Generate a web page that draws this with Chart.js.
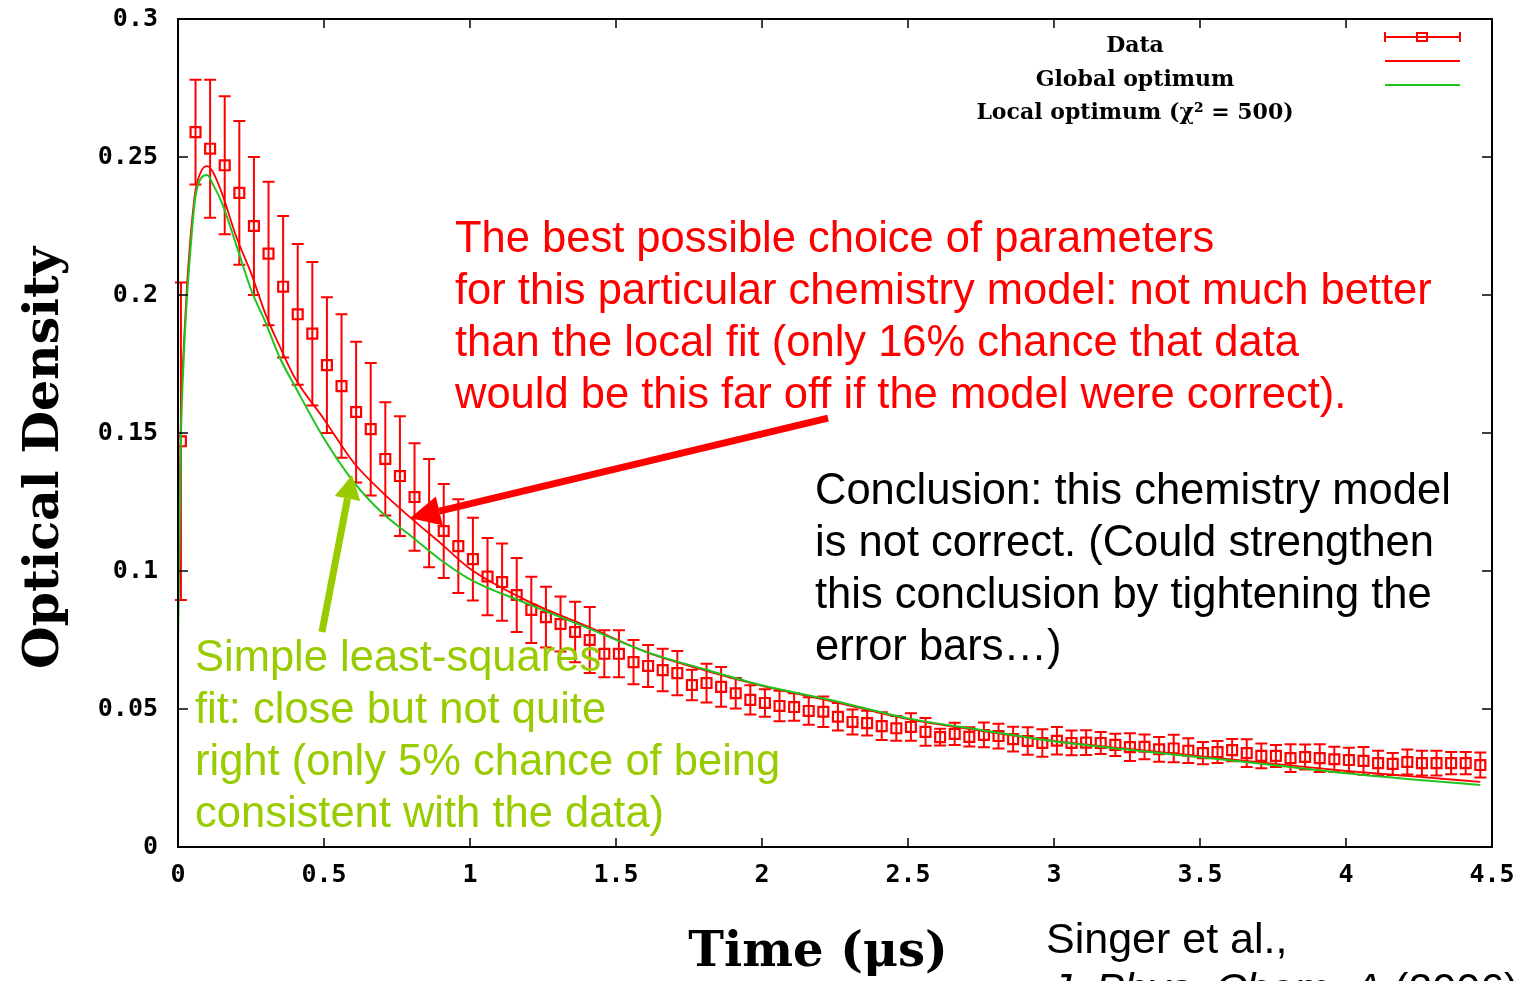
<!DOCTYPE html>
<html>
<head>
<meta charset="utf-8">
<title>Optical density fit</title>
<script src="https://cdn.jsdelivr.net/npm/chart.js@4.4.1/dist/chart.umd.min.js"></script>
<style>
  html, body { margin: 0; padding: 0; background: #fff; overflow: hidden; }
  #wrap { position: relative; width: 1525px; height: 981px; }
</style>
</head>
<body>
<div id="wrap"><canvas id="chart"></canvas></div>
<script>
// --- data ---
const times = [0.01, 0.06, 0.11, 0.16, 0.21, 0.26, 0.31, 0.36, 0.41, 0.46,
  0.51, 0.56, 0.61, 0.66, 0.71, 0.76, 0.81, 0.86, 0.91, 0.96,
  1.01, 1.06, 1.11, 1.16, 1.21, 1.26, 1.31, 1.36, 1.41, 1.46,
  1.51, 1.56, 1.61, 1.66, 1.71, 1.76, 1.81, 1.86, 1.91, 1.96,
  2.01, 2.06, 2.11, 2.16, 2.21, 2.26, 2.31, 2.36, 2.41, 2.46,
  2.51, 2.56, 2.61, 2.66, 2.71, 2.76, 2.81, 2.86, 2.91, 2.96,
  3.01, 3.06, 3.11, 3.16, 3.21, 3.26, 3.31, 3.36, 3.41, 3.46,
  3.51, 3.56, 3.61, 3.66, 3.71, 3.76, 3.81, 3.86, 3.91, 3.96,
  4.01, 4.06, 4.11, 4.16, 4.21, 4.26, 4.31, 4.36, 4.41, 4.46];
const density = [0.147, 0.259, 0.253, 0.247, 0.237, 0.225, 0.215, 0.203, 0.193, 0.186,
  0.1746, 0.167, 0.1576, 0.1514, 0.1406, 0.1344, 0.1268, 0.121, 0.1145, 0.109,
  0.1043, 0.098, 0.096, 0.0913, 0.0859, 0.0833, 0.0808, 0.0779, 0.075, 0.070,
  0.070, 0.067, 0.0656, 0.0641, 0.063, 0.0587, 0.0594, 0.058, 0.0557, 0.0533,
  0.0522, 0.0511, 0.0507, 0.0493, 0.049, 0.0472, 0.0453, 0.0449, 0.0438, 0.043,
  0.0435, 0.0417, 0.0398, 0.041, 0.0399, 0.0406, 0.0402, 0.0391, 0.0384, 0.0377,
  0.0385, 0.0377, 0.0378, 0.0377, 0.037, 0.0362, 0.0363, 0.0354, 0.0357, 0.0349,
  0.034, 0.0344, 0.0351, 0.034, 0.033, 0.033, 0.0322, 0.0326, 0.0322, 0.0318,
  0.0315, 0.0312, 0.0304, 0.0301, 0.0308, 0.0304, 0.0304, 0.0304, 0.0304, 0.0297];
const errors = [0.0575, 0.019, 0.025, 0.025, 0.026, 0.025, 0.026, 0.0256, 0.0255, 0.026,
  0.0246, 0.026, 0.0255, 0.024, 0.0205, 0.0217, 0.0195, 0.0196, 0.017, 0.017,
  0.015, 0.014, 0.014, 0.0134, 0.012, 0.011, 0.010, 0.011, 0.012, 0.0085,
  0.0085, 0.008, 0.0076, 0.0077, 0.008, 0.0055, 0.007, 0.0072, 0.0055, 0.0053,
  0.005, 0.0055, 0.005, 0.005, 0.0055, 0.005, 0.0045, 0.0045, 0.005, 0.0045,
  0.005, 0.005, 0.003, 0.004, 0.0035, 0.0045, 0.0045, 0.0045, 0.005, 0.005,
  0.005, 0.0045, 0.0045, 0.004, 0.004, 0.005, 0.0045, 0.0045, 0.005, 0.0045,
  0.004, 0.004, 0.004, 0.005, 0.0045, 0.004, 0.005, 0.0045, 0.005, 0.0045,
  0.0045, 0.005, 0.0045, 0.004, 0.0045, 0.0045, 0.0045, 0.004, 0.004, 0.0045];

const fitTimes = [0, 0.005, 0.01, 0.02, 0.03, 0.04, 0.05, 0.06, 0.08, 0.1,
  0.12, 0.15, 0.2, 0.25, 0.3, 0.35, 0.4, 0.5, 0.6, 0.7,
  0.8, 0.9, 1.0, 1.2, 1.4, 1.6, 1.8, 2.0, 2.25, 2.5,
  2.75, 3.0, 3.25, 3.5, 3.75, 4.0, 4.25, 4.46];
const globalFit = [0.089, 0.125, 0.155, 0.182, 0.202, 0.217, 0.229, 0.238, 0.245, 0.2467,
  0.2445, 0.237, 0.221, 0.208, 0.193, 0.181, 0.170, 0.155, 0.1395, 0.1285,
  0.119, 0.110, 0.1008, 0.089, 0.080, 0.0708, 0.0641, 0.0584, 0.0525, 0.0463,
  0.0421, 0.0384, 0.0356, 0.0329, 0.0302, 0.0276, 0.0254, 0.0236];
const localFit = [0.073, 0.11, 0.148, 0.178, 0.198, 0.213, 0.226, 0.236, 0.2425, 0.2435,
  0.240, 0.2335, 0.218, 0.202, 0.190, 0.177, 0.167, 0.148, 0.1325, 0.121,
  0.1125, 0.104, 0.097, 0.088, 0.0795, 0.0708, 0.0645, 0.0586, 0.0529, 0.0466,
  0.0424, 0.0383, 0.0353, 0.0325, 0.0297, 0.0267, 0.0243, 0.0225];

const xTicks = [0, 0.5, 1, 1.5, 2, 2.5, 3, 3.5, 4, 4.5];
const yTicks = [0, 0.05, 0.1, 0.15, 0.2, 0.25, 0.3];

const legendLabels = ['Data', 'Global optimum', 'Local optimum (χ² = 500)'];
const redNote = ['The best possible choice of parameters',
  'for this particular chemistry model: not much better',
  'than the local fit (only 16% chance that data',
  'would be this far off if the model were correct).'];
const blackNote = ['Conclusion: this chemistry model',
  'is not correct. (Could strengthen',
  'this conclusion by tightening the',
  'error bars…)'];
const greenNote = ['Simple least-squares',
  'fit: close but not quite',
  'right (only 5% chance of being',
  'consistent with the data)'];

// arrows: [tail t, tail OD, tip t, tip OD]
const redArrow = [2.226, 0.1554, 0.795, 0.1192];
const greenArrow = [0.493, 0.0779, 0.596, 0.1348];

const RED = '#ff0000';
const GREEN = '#1fc41f';
const LIME = '#99cc00';
const SANS = '"Liberation Sans", Arial, sans-serif';
const SERIF = '"DejaVu Serif", serif';

// --- helpers ---
function arrow(ctx, x0, y0, x1, y1, color, width, headLen, headHalf) {
  const ang = Math.atan2(y1 - y0, x1 - x0);
  const bx = x1 - Math.cos(ang) * headLen;
  const by = y1 - Math.sin(ang) * headLen;
  ctx.save();
  ctx.strokeStyle = color;
  ctx.fillStyle = color;
  ctx.lineWidth = width;
  ctx.beginPath();
  ctx.moveTo(x0, y0);
  ctx.lineTo(bx, by);
  ctx.stroke();
  ctx.beginPath();
  ctx.moveTo(x1, y1);
  ctx.lineTo(bx + Math.sin(ang) * headHalf, by - Math.cos(ang) * headHalf);
  ctx.lineTo(bx - Math.sin(ang) * headHalf, by + Math.cos(ang) * headHalf);
  ctx.closePath();
  ctx.fill();
  ctx.restore();
}

function textLines(ctx, lines, x, y0, step, color) {
  ctx.fillStyle = color;
  lines.forEach((s, i) => ctx.fillText(s, x, y0 + i * step));
}

// vertical error bars, drawn under the lines
const errorBars = {
  id: 'errorBars',
  beforeDatasetsDraw(chart) {
    const { ctx, scales: { x, y } } = chart;
    ctx.save();
    ctx.strokeStyle = RED;
    ctx.lineWidth = 2;
    ctx.beginPath();
    times.forEach((t, i) => {
      const px = x.getPixelForValue(t);
      const top = y.getPixelForValue(density[i] + errors[i]);
      const bot = y.getPixelForValue(density[i] - errors[i]);
      ctx.moveTo(px, top); ctx.lineTo(px, bot);
      ctx.moveTo(px - 6, top); ctx.lineTo(px + 6, top);
      ctx.moveTo(px - 6, bot); ctx.lineTo(px + 6, bot);
    });
    ctx.stroke();
    ctx.restore();
  }
};

// frame, inward ticks, legend, notes and titles
const decorations = {
  id: 'decorations',
  afterDraw(chart) {
    const { ctx, chartArea: a, scales: { x, y } } = chart;
    ctx.save();

    // frame + mirrored inward ticks
    ctx.strokeStyle = '#000';
    ctx.lineWidth = 2;
    ctx.strokeRect(a.left, a.top, a.right - a.left, a.bottom - a.top);
    ctx.lineWidth = 1.5;
    ctx.beginPath();
    xTicks.forEach(v => {
      const px = x.getPixelForValue(v);
      ctx.moveTo(px, a.bottom); ctx.lineTo(px, a.bottom - 9);
      ctx.moveTo(px, a.top); ctx.lineTo(px, a.top + 9);
    });
    yTicks.forEach(v => {
      const py = y.getPixelForValue(v);
      ctx.moveTo(a.left, py); ctx.lineTo(a.left + 10, py);
      ctx.moveTo(a.right, py); ctx.lineTo(a.right - 10, py);
    });
    ctx.stroke();

    // legend
    ctx.font = 'bold 22px ' + SERIF;
    ctx.textAlign = 'center';
    ctx.textBaseline = 'alphabetic';
    ctx.fillStyle = '#000';
    [52, 86, 119].forEach((by, i) => ctx.fillText(legendLabels[i], 1135, by));
    ctx.lineWidth = 2;
    ctx.strokeStyle = RED;
    ctx.beginPath();
    ctx.moveTo(1385, 37); ctx.lineTo(1460, 37);
    ctx.moveTo(1385, 32); ctx.lineTo(1385, 42);
    ctx.moveTo(1460, 32); ctx.lineTo(1460, 42);
    ctx.moveTo(1385, 61); ctx.lineTo(1460, 61);
    ctx.stroke();
    ctx.strokeRect(1417, 33, 10, 8);
    ctx.strokeStyle = GREEN;
    ctx.beginPath();
    ctx.moveTo(1385, 85); ctx.lineTo(1460, 85);
    ctx.stroke();

    // arrows (anchored in data coordinates)
    arrow(ctx, x.getPixelForValue(redArrow[0]), y.getPixelForValue(redArrow[1]),
      x.getPixelForValue(redArrow[2]), y.getPixelForValue(redArrow[3]), RED, 7, 30, 15);
    arrow(ctx, x.getPixelForValue(greenArrow[0]), y.getPixelForValue(greenArrow[1]),
      x.getPixelForValue(greenArrow[2]), y.getPixelForValue(greenArrow[3]), LIME, 7, 24, 13);

    // notes
    ctx.textAlign = 'left';
    ctx.font = '43.5px ' + SANS;
    textLines(ctx, redNote, 455, 252, 52, RED);
    textLines(ctx, blackNote, 815, 504, 52, '#000');
    textLines(ctx, greenNote, 195, 671, 52, LIME);

    // citation
    ctx.font = '43px ' + SANS;
    ctx.fillStyle = '#000';
    ctx.fillText('Singer et al.,', 1046, 953);
    ctx.font = 'italic 43px ' + SANS;
    const jr = 'J. Phys. Chem. A';
    ctx.fillText(jr, 1050, 1003);
    const w = ctx.measureText(jr).width;
    ctx.font = '43px ' + SANS;
    ctx.fillText(' (2006)', 1050 + w, 1003);

    // axis titles
    ctx.font = 'bold 48px ' + SERIF;
    ctx.textAlign = 'center';
    ctx.fillText('Time (μs)', 818, 966);
    ctx.font = 'bold 49px ' + SERIF;
    ctx.translate(58, 458);
    ctx.rotate(-Math.PI / 2);
    ctx.fillText('Optical Density', 0, 0);

    ctx.restore();
  }
};

const tickFont = { family: '"DejaVu Sans Mono", monospace', weight: 'bold', size: 25 };

new Chart(document.getElementById('chart'), {
  type: 'scatter',
  data: {
    datasets: [
      {
        label: 'Local optimum (χ² = 500)',
        data: fitTimes.map((t, i) => ({ x: t, y: localFit[i] })),
        showLine: true,
        borderColor: GREEN,
        borderWidth: 2,
        pointRadius: 0,
        cubicInterpolationMode: 'monotone',
        order: 0
      },
      {
        label: 'Global optimum',
        data: fitTimes.map((t, i) => ({ x: t, y: globalFit[i] })),
        showLine: true,
        borderColor: RED,
        borderWidth: 1.8,
        pointRadius: 0,
        cubicInterpolationMode: 'monotone',
        order: 1
      },
      {
        label: 'Data',
        data: times.map((t, i) => ({ x: t, y: density[i] })),
        pointStyle: 'rect',
        pointRadius: 7,
        pointBorderWidth: 2.2,
        borderColor: RED,
        backgroundColor: 'rgba(0,0,0,0)',
        order: 2
      }
    ]
  },
  options: {
    responsive: true,
    maintainAspectRatio: false,
    animation: false,
    events: [],
    layout: { padding: { top: 19, right: 33, left: 0, bottom: 0 } },
    plugins: { legend: { display: false }, tooltip: { enabled: false } },
    scales: {
      x: {
        type: 'linear', min: 0, max: 4.5,
        afterBuildTicks: s => { s.ticks = xTicks.map(v => ({ value: v })); },
        afterFit: s => { s.height = 134; s.paddingLeft = 0; s.paddingRight = 0; },
        grid: { display: false, drawTicks: false },
        border: { display: false },
        ticks: { padding: 13, font: tickFont, color: '#000', autoSkip: false, maxRotation: 0, callback: v => String(v) }
      },
      y: {
        type: 'linear', min: 0, max: 0.3,
        afterBuildTicks: s => { s.ticks = yTicks.map(v => ({ value: v })); },
        afterFit: s => { s.width = 178; s.paddingTop = 0; s.paddingBottom = 0; },
        grid: { display: false, drawTicks: false },
        border: { display: false },
        ticks: { padding: 20, font: tickFont, color: '#000', autoSkip: false, callback: v => String(v) }
      }
    }
  },
  plugins: [errorBars, decorations]
});
</script>
</body>
</html>
